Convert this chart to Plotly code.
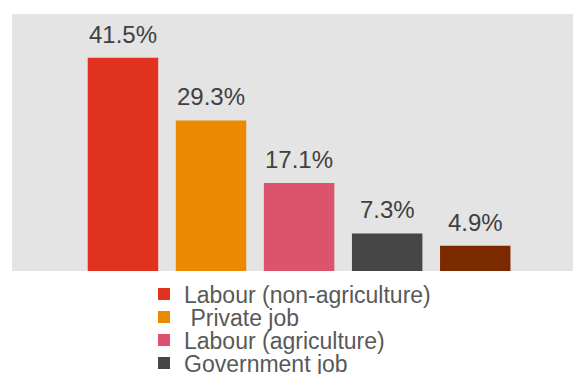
import plotly.graph_objects as go

# ---- data ----
categories = ["Labour (non-agriculture)", " Private job", "Labour (agriculture)", "Government job", "Own business"]
values = [41.5, 29.3, 17.1, 7.3, 4.9]
value_labels = ["41.5%", "29.3%", "17.1%", "7.3%", "4.9%"]

# ---- styles ----
colors = ["#E0321E", "#EB8A00", "#DC546C", "#464646", "#7B2A00"]
FONT = "Liberation Sans, Arial, sans-serif"
W, H = 573, 374
ML, MR, MT, MB = 12, 0, 14, 103
legend_center_px = [294, 317, 340, 363]   # vertical centres of visible legend rows
legend_left_px = 144

fig = go.Figure()
legend_ids = ["legend"] + [f"legend{i}" for i in range(2, len(legend_center_px) + 1)]
for i, (cat, val) in enumerate(zip(categories, values)):
    visible_in_legend = i < len(legend_ids)
    fig.add_trace(go.Bar(
        x=[cat], y=[val], name=cat, width=0.8,
        marker=dict(color=colors[i], line=dict(width=0)),
        legend=legend_ids[i] if visible_in_legend else "legend",
        showlegend=visible_in_legend, hoverinfo="skip",
    ))

for cat, val, lab in zip(categories, values, value_labels):
    fig.add_annotation(x=cat, y=val, text=lab, showarrow=False,
                       xanchor="center", yanchor="bottom", yshift=8,
                       font=dict(family=FONT, size=24, color="#404040"))

layout_legends = {}
for i, lid in enumerate(legend_ids):
    layout_legends[lid] = dict(
        xref="container", yref="container",
        x=legend_left_px / W, xanchor="left",
        y=1 - legend_center_px[i] / H, yanchor="middle",
        font=dict(family=FONT, size=23, color="#595959"),
        bgcolor="rgba(0,0,0,0)", borderwidth=0,
    )

fig.update_layout(
    width=W, height=H,
    margin=dict(l=ML, r=MR, t=MT, b=MB, pad=0, autoexpand=False),
    paper_bgcolor="white", plot_bgcolor="#E4E4E4",
    barmode="overlay",
    font=dict(family=FONT),
    xaxis=dict(type="category", categoryorder="array", categoryarray=categories,
               range=[-1.26, 5.11], showticklabels=False, showgrid=False,
               zeroline=False, showline=False, ticks=""),
    yaxis=dict(range=[0, 50], showticklabels=False, showgrid=False,
               zeroline=False, showline=False, ticks=""),
    **layout_legends,
)

fig.write_html("out.html")
